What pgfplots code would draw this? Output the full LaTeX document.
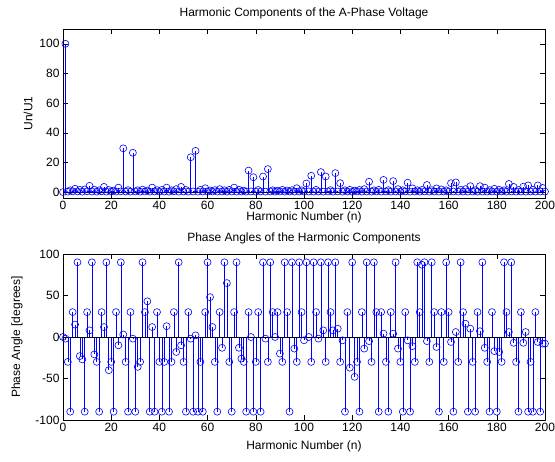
\documentclass[border=0pt]{standalone}
\usepackage{fontspec}
\setmainfont{Liberation Sans}
\usepackage{pgfplots}
\pgfplotsset{compat=1.18}

\newcommand{\fs}{\fontsize{12}{14}\selectfont}
\definecolor{mblue}{rgb}{0,0,1}

\pgfplotsset{
  matsub/.style={
    scale only axis, width=482pt,
    xmin=0, xmax=200, xtick={0,20,...,200},
    tick align=inside, major tick length=5pt,
    axis line style={black}, every tick/.style={black, thin},
    tick label style={font=\fs},
    label style={font=\fs},
    title style={font=\fs, yshift=0pt},
    /pgf/number format/assume math mode=true,
    clip=false,
  },
  stem/.style={ycomb, mblue, line width=0.6pt, mark=o, mark size=3.5pt,
    mark options={mblue, line width=0.6pt}},
}

\begin{document}
\begin{tikzpicture}
\path[use as bounding box] (0,0) rectangle (555pt,-462pt);

% magnitude spectrum
\begin{axis}[matsub, at={(63pt,-198pt)}, anchor=south west, height=169pt,
    ymin=-4, ymax=110, ytick={0,20,...,100},
    title={Harmonic Components of the A-Phase Voltage},
    xlabel={Harmonic Number (n)}, ylabel={Un/U1},
    xlabel style={yshift=5pt}]
\addplot[stem] coordinates {
(0,0) (1,100) (2,0.3) (3,1.2) (4,0.5) (5,2.2) (6,0.4) (7,1.5) (8,0.3) (9,1.8)
(10,0.5) (11,4.2) (12,0.4) (13,1.6) (14,0.3) (15,1.2) (16,0.5) (17,3.5) (18,0.3) (19,1.4)
(20,0.4) (21,1.0) (22,0.3) (23,3.0) (24,0.5) (25,29.5) (26,0.4) (27,1.3) (28,0.3) (29,26.5)
(30,0.4) (31,1.2) (32,0.3) (33,1.6) (34,0.4) (35,1.1) (36,0.3) (37,3.0) (38,0.4) (39,1.3)
(40,0.3) (41,1.5) (42,0.4) (43,3.0) (44,0.3) (45,1.2) (46,0.5) (47,2.0) (48,0.3) (49,3.5)
(50,0.4) (51,1.4) (52,0.3) (53,23.5) (54,0.4) (55,27.8) (56,0.3) (57,1.5) (58,0.4) (59,2.6)
(60,0.3) (61,1.1) (62,0.4) (63,1.3) (64,0.3) (65,2.0) (66,0.4) (67,1.2) (68,0.3) (69,1.5)
(70,0.4) (71,3.0) (72,0.3) (73,1.6) (74,0.4) (75,1.0) (76,0.3) (77,14.5) (78,0.4) (79,10.0)
(80,0.3) (81,1.4) (82,0.4) (83,10.5) (84,0.3) (85,15.5) (86,0.4) (87,1.2) (88,0.3) (89,1.0)
(90,0.4) (91,1.5) (92,0.3) (93,1.1) (94,0.4) (95,1.3) (96,0.3) (97,2.6) (98,0.4) (99,1.2)
(100,0.3) (101,5.8) (102,0.4) (103,11.0) (104,0.3) (105,1.5) (106,0.4) (107,13.5) (108,0.3) (109,10.5)
(110,0.4) (111,1.3) (112,0.3) (113,12.8) (114,0.4) (115,6.0) (116,0.3) (117,1.2) (118,0.4) (119,1.5)
(120,0.3) (121,1.0) (122,0.4) (123,1.4) (124,0.3) (125,2.0) (126,0.4) (127,7.0) (128,0.3) (129,1.2)
(130,0.4) (131,1.5) (132,0.3) (133,8.2) (134,0.4) (135,1.3) (136,0.3) (137,7.4) (138,0.4) (139,2.0)
(140,0.3) (141,1.2) (142,0.4) (143,6.3) (144,0.3) (145,2.5) (146,0.4) (147,1.2) (148,0.3) (149,1.5)
(150,0.4) (151,4.8) (152,0.3) (153,1.3) (154,0.4) (155,2.5) (156,0.3) (157,1.8) (158,0.4) (159,1.2)
(160,0.3) (161,6.0) (162,0.4) (163,6.5) (164,0.3) (165,1.5) (166,0.4) (167,2.0) (168,0.3) (169,4.0)
(170,0.4) (171,1.2) (172,0.3) (173,4.0) (174,0.4) (175,3.0) (176,0.3) (177,1.3) (178,0.4) (179,2.2)
(180,0.3) (181,1.5) (182,0.4) (183,1.2) (184,0.3) (185,5.5) (186,0.4) (187,3.5) (188,0.3) (189,1.4)
(190,0.4) (191,3.6) (192,0.3) (193,4.5) (194,0.4) (195,1.5) (196,0.3) (197,4.5) (198,0.4) (199,2.8)
(200,0.3)
};
\addplot[black, line width=0.6pt, no marks] coordinates {(0,0) (200,0)};
\end{axis}

% phase angles
\begin{axis}[matsub, at={(63pt,-420pt)}, anchor=south west, height=166pt,
    ymin=-100, ymax=100, ytick={-100,-50,0,50,100},
    title={Phase Angles of the Harmonic Components},
    xlabel={Harmonic Number (n)}, ylabel={Phase Angle [degrees]},
    xlabel style={yshift=-2pt}, ylabel style={yshift=6pt}]
\addplot[stem] coordinates {
(0,0) (1,-2) (2,-30) (3,-90) (4,30) (5,15) (6,90) (7,-23) (8,-27) (9,-90)
(10,30) (11,8) (12,90) (13,-21) (14,-30) (15,-90) (16,30) (17,12) (18,90) (19,-40)
(20,-30) (21,-90) (22,30) (23,-10) (24,90) (25,3) (26,-30) (27,-90) (28,30) (29,-2)
(30,-90) (31,-36) (32,-30) (33,90) (34,30) (35,43) (36,-90) (37,12) (38,-90) (39,30)
(40,-30) (41,-90) (42,-30) (43,13) (44,-90) (45,-30) (46,30) (47,-18) (48,90) (49,-10)
(50,-30) (51,-90) (52,30) (53,-2) (54,-90) (55,2) (56,-90) (57,-30) (58,-90) (59,30)
(60,90) (61,48) (62,12) (63,-30) (64,-90) (65,30) (66,-13) (67,90) (68,65) (69,-30)
(70,-90) (71,30) (72,90) (73,-13) (74,-26) (75,-30) (76,-90) (77,30) (78,0) (79,-90)
(80,-30) (81,30) (82,-90) (83,90) (84,-2) (85,-30) (86,90) (87,30) (88,0) (89,30)
(90,-20) (91,-30) (92,90) (93,30) (94,-90) (95,90) (96,-14) (97,-30) (98,90) (99,30)
(100,-4) (101,90) (102,0) (103,-30) (104,90) (105,30) (106,-2) (107,90) (108,8) (109,-30)
(110,90) (111,30) (112,8) (113,90) (114,10) (115,-30) (116,-4) (117,-90) (118,30) (119,-37)
(120,90) (121,-48) (122,-30) (123,-90) (124,30) (125,-14) (126,90) (127,-5) (128,-30) (129,90)
(130,30) (131,-90) (132,30) (133,4) (134,-30) (135,-90) (136,30) (137,4) (138,90) (139,-14)
(140,-30) (141,-90) (142,30) (143,-4) (144,-90) (145,-11) (146,-30) (147,90) (148,30) (149,87)
(150,90) (151,-5) (152,-30) (153,90) (154,30) (155,-12) (156,-90) (157,30) (158,-30) (159,90)
(160,30) (161,-6) (162,-90) (163,6) (164,-30) (165,90) (166,30) (167,16) (168,-90) (169,10)
(170,-30) (171,-90) (172,30) (173,7) (174,90) (175,-13) (176,-30) (177,-90) (178,30) (179,-17)
(180,-90) (181,-18) (182,-30) (183,90) (184,30) (185,6) (186,90) (187,-7) (188,-30) (189,-90)
(190,30) (191,-7) (192,6) (193,-90) (194,-30) (195,-90) (196,30) (197,-6) (198,-90) (199,-8)
(200,-8)
};
\addplot[black, line width=0.6pt, no marks] coordinates {(0,0) (200,0)};
\end{axis}
\end{tikzpicture}
\end{document}
